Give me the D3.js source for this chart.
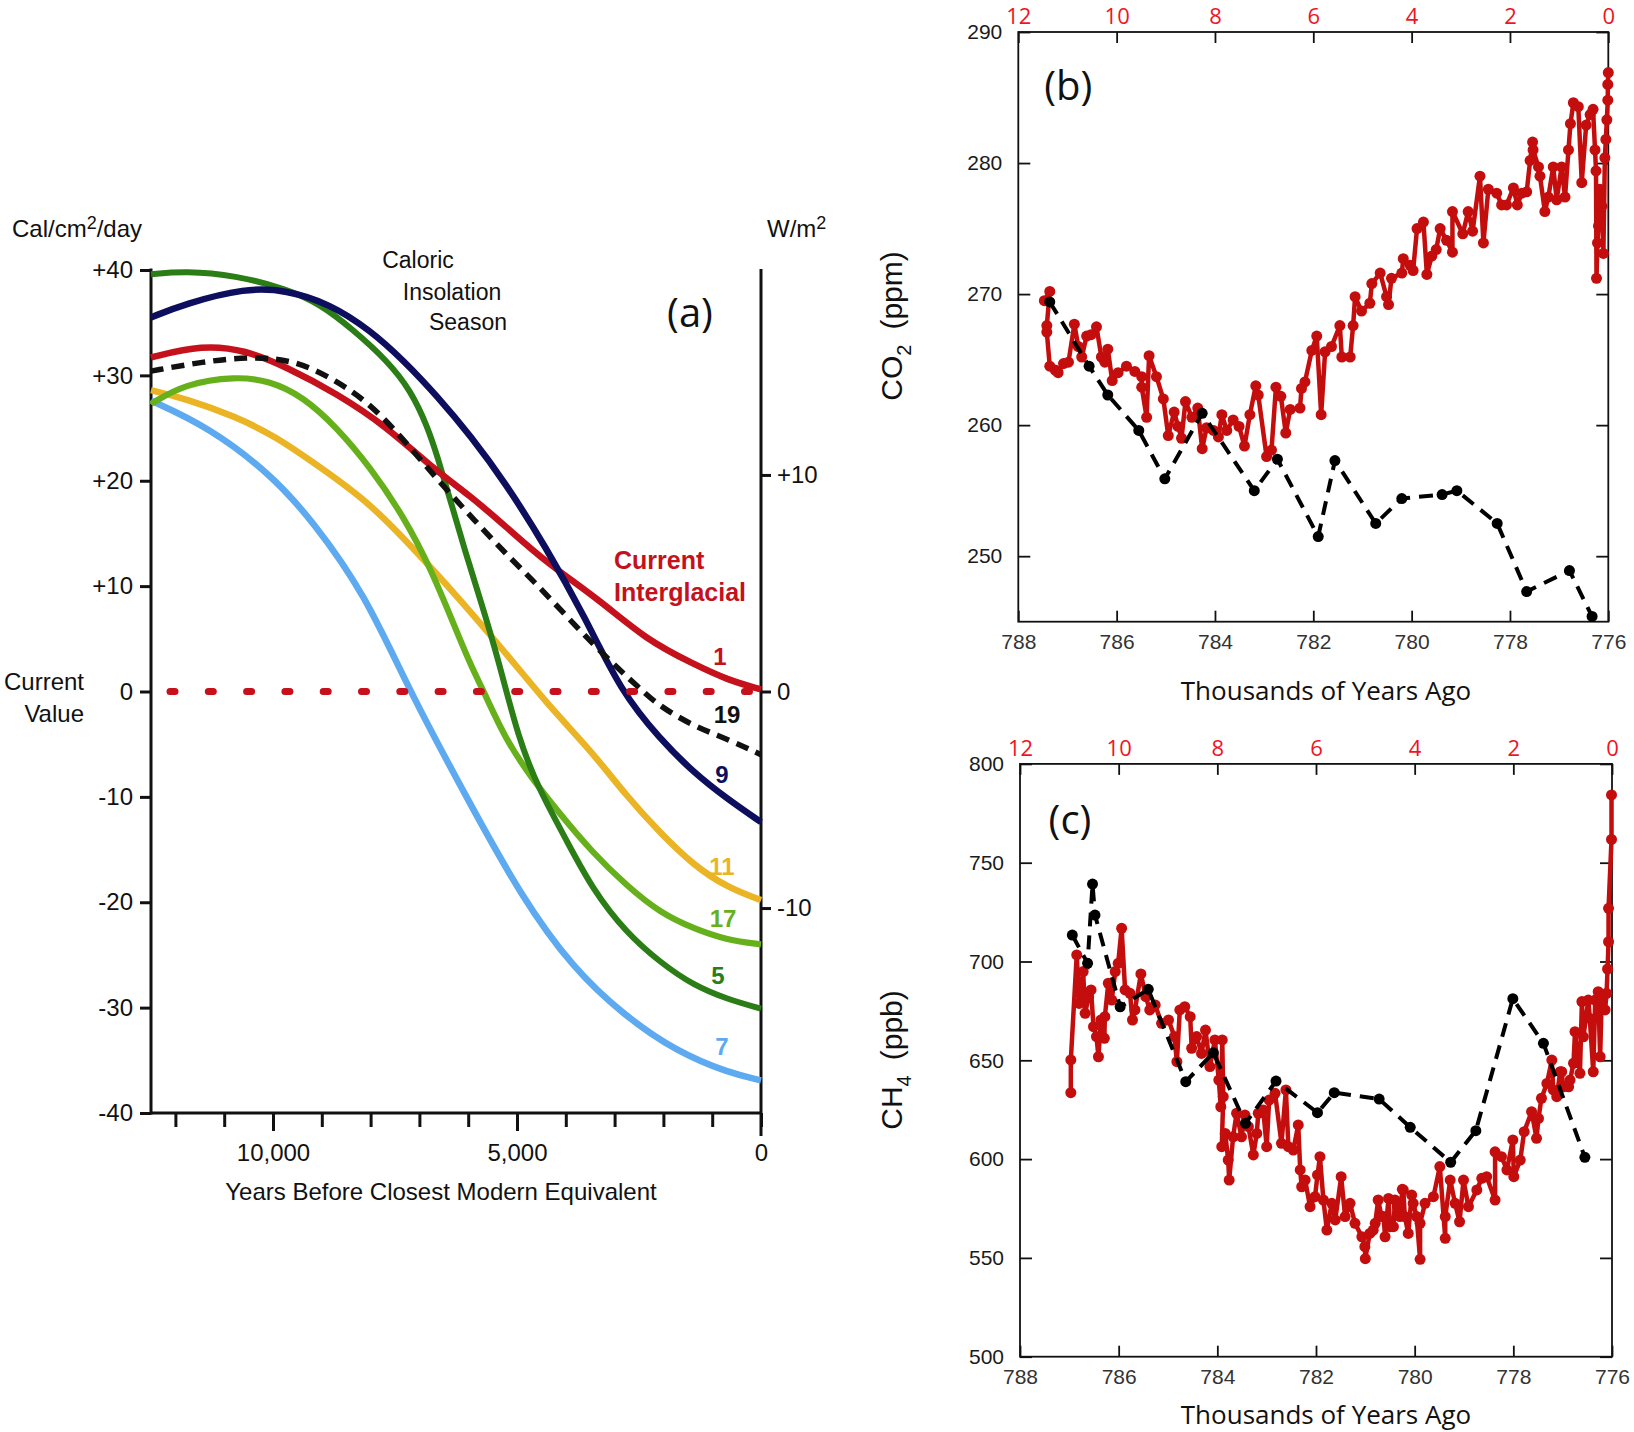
<!DOCTYPE html>
<meta charset="utf-8">
<head>
<script src="https://d3js.org/d3.v7.min.js"></script>
<style>
  body { margin: 0; background: #fff; }
  svg { display: block; }
  .sans { font-family: "Liberation Sans", Arial, sans-serif; }
  .cal { font-family: "Open Sans", sans-serif; }
</style>
</head>
<body>
<svg id="chart" width="1634" height="1432"></svg>

<script>
// ---------- panel (a): caloric insolation, years before closest modern equivalent (in kyr) ----------
var curve1  = [[12.5,31.7],[11.45,32.9],[10.56,32.4],[9.73,30.8],[8.70,28.3],[7.66,25.1],[6.76,21.3],[5.94,18.5],[5.24,15.7],[4.42,12.3],[3.31,8.7],[2.35,4.9],[1.38,2.6],[0.69,1.1],[0,0.2]];
var curve9  = [[12.5,35.5],[11.8,36.8],[10.56,38.3],[9.73,38.1],[8.84,36.8],[8.01,34.3],[7.32,31.4],[6.63,28.0],[5.94,24.2],[5.24,19.8],[4.42,13.8],[3.6,7.0],[2.87,0],[2.07,-4.5],[1.38,-7.7],[0.69,-10.2],[0,-12.4]];
var curve5  = [[12.5,39.6],[11.8,39.9],[10.77,39.5],[9.73,38.2],[9.04,36.8],[8.35,34.3],[7.66,31.4],[7.18,28.6],[6.83,25.1],[6.63,22.3],[6.35,17.9],[6.07,13.4],[5.73,8.4],[5.38,3.0],[4.97,-4.5],[4.55,-9.3],[4.00,-14.0],[3.45,-18.8],[2.76,-22.9],[2.07,-25.7],[1.38,-27.9],[0.69,-29.2],[0,-30.1]];
var curve17 = [[12.5,27.3],[11.8,29.2],[10.77,29.9],[10.08,29.5],[9.39,28.0],[8.70,25.1],[8.01,21.3],[7.32,16.6],[6.76,11.6],[6.28,6.2],[5.94,2.4],[5.68,0],[5.24,-4.5],[4.69,-8.3],[4.14,-11.5],[3.45,-15.3],[2.76,-18.4],[2.07,-21.0],[1.38,-22.5],[0.69,-23.6],[0,-24.0]];
var curve11 = [[12.5,28.6],[11.8,27.8],[10.77,26.1],[9.94,24.2],[9.04,21.3],[8.01,17.9],[6.97,12.8],[6.28,9.3],[5.59,5.6],[4.90,1.8],[4.28,-1.7],[3.45,-5.8],[2.76,-9.9],[2.07,-13.4],[1.38,-16.5],[0.69,-18.6],[0,-19.8]];
var curve7  = [[12.5,27.6],[11.32,25.1],[10.04,20.6],[9.19,16.2],[8.12,9.3],[7.2,0],[5.98,-10.5],[4.92,-19.4],[3.85,-26.3],[2.79,-30.8],[1.72,-34.2],[0.66,-36.2],[0,-36.9]];
var curve19 = [[12.5,30.4],[11.45,31.3],[10.42,31.8],[9.52,31.4],[8.70,29.5],[8.01,27.3],[7.32,23.9],[6.63,20.1],[5.94,16.6],[5.24,13.1],[4.55,10.0],[3.4,4.2],[2.42,0],[2.07,-1.4],[1.38,-3.3],[0.69,-4.5],[0,-6.0]];

var calTicks = [-40,-30,-20,-10,0,10,20,30,40];
var wTicks = [-10,0,10];
var yearTicks = [0,1,2,3,4,5,6,7,8,9,10,11,12];
var yearLabels = {10:"10,000", 5:"5,000", 0:"0"};

// ---------- panel (b): CO2 ----------
var co2Red = [[787.47,269.5],[787.36,270.2],[787.42,267.6],[787.42,267.1],[787.36,264.5],[787.25,264.2],[787.19,264.0],[787.08,264.7],[786.98,264.8],[786.86,267.7],[786.78,266.0],[786.71,265.2],[786.61,266.8],[786.52,266.9],[786.41,267.5],[786.31,265.2],[786.24,264.8],[786.18,265.8],[786.09,263.4],[785.97,264.0],[785.80,264.5],[785.63,264.1],[785.49,263.7],[785.49,262.9],[785.39,260.6],[785.34,265.3],[785.19,263.7],[785.05,262.0],[784.95,259.2],[784.83,261.0],[784.75,259.9],[784.68,259.0],[784.60,261.8],[784.47,260.6],[784.35,261.3],[784.26,258.2],[784.17,259.8],[784.03,259.6],[783.93,259.1],[783.86,260.8],[783.76,259.6],[783.63,260.4],[783.51,259.9],[783.40,258.4],[783.29,260.8],[783.17,263.0],[783.12,262.3],[782.95,257.6],[782.85,258.1],[782.76,262.9],[782.66,262.2],[782.56,259.4],[782.47,261.2],[782.27,261.3],[782.24,262.8],[782.17,263.3],[782.03,265.7],[781.93,266.8],[781.84,260.8],[781.76,265.6],[781.63,266.0],[781.46,267.6],[781.42,265.2],[781.25,265.2],[781.19,267.6],[781.15,269.8],[781.02,268.7],[780.85,269.3],[780.81,270.8],[780.64,271.6],[780.51,269.8],[780.47,269.2],[780.41,271.2],[780.20,271.6],[780.17,272.7],[780.03,272.2],[779.97,271.8],[779.89,275.0],[779.76,275.5],[779.69,271.5],[779.59,272.9],[779.50,273.4],[779.42,275.0],[779.29,274.1],[779.17,273.2],[779.17,276.3],[778.96,274.6],[778.85,276.3],[778.76,274.8],[778.61,279.0],[778.54,273.9],[778.44,278.0],[778.27,277.7],[778.17,276.8],[778.07,276.8],[777.93,278.1],[777.85,276.8],[777.76,277.7],[777.66,277.8],[777.59,280.2],[777.54,281.6],[777.53,281.0],[777.42,279.7],[777.39,279.0],[777.29,276.3],[777.22,277.4],[777.12,279.7],[777.05,277.2],[776.95,279.7],[776.88,277.4],[776.81,281.0],[776.77,283.0],[776.71,284.6],[776.61,284.3],[776.54,278.5],[776.45,282.9],[776.37,283.7],[776.31,284.1],[776.27,281.0],[776.25,279.4],[776.24,271.2],[776.22,273.9],[776.20,275.2],[776.17,278.0],[776.13,276.7],[776.10,273.1],[776.07,280.4],[776.05,281.8],[776.03,283.3],[776.01,284.8],[776.01,286.0],[776.0,286.9]];
var co2Black = [[787.36,269.4],[786.56,264.5],[786.18,262.3],[785.55,259.6],[785.02,255.9],[784.26,260.9],[783.20,255.0],[782.73,257.4],[781.90,251.5],[781.56,257.3],[780.73,252.5],[780.20,254.4],[779.38,254.7],[779.08,255.0],[778.26,252.5],[777.66,247.3],[776.79,248.9],[776.33,245.4]];
var co2Ticks = [250,260,270,280,290];

// ---------- panel (c): CH4 ----------
var ch4Red = [[786.97,633.6],[786.97,650.2],[786.85,703.3],[786.80,678.8],[786.72,694.9],[786.68,673.8],[786.61,682.2],[786.56,685.6],[786.51,667.0],[786.45,662.0],[786.41,651.8],[786.36,670.4],[786.29,661.1],[786.28,672.1],[786.21,689.0],[786.14,680.5],[786.07,694.9],[786.01,699.1],[785.94,716.8],[785.87,685.6],[785.77,683.9],[785.72,670.4],[785.67,675.5],[785.55,693.7],[785.45,682.2],[785.37,675.5],[785.26,678.0],[785.13,668.7],[784.99,670.4],[784.87,662.0],[784.82,649.3],[784.76,675.5],[784.66,677.1],[784.55,672.1],[784.52,656.1],[784.42,662.0],[784.32,653.5],[784.24,665.3],[784.15,646.8],[784.05,660.3],[783.97,640.0],[783.93,626.5],[783.90,660.3],[783.88,631.6],[783.91,606.3],[783.84,613.0],[783.78,599.5],[783.76,589.4],[783.68,611.3],[783.61,623.2],[783.51,611.3],[783.44,622.3],[783.37,616.4],[783.27,602.1],[783.20,613.0],[783.17,623.2],[783.07,624.8],[783.00,606.3],[782.95,629.9],[782.83,633.3],[782.70,608.0],[782.61,635.0],[782.56,606.3],[782.46,604.6],[782.36,617.3],[782.32,594.5],[782.29,586.0],[782.22,589.4],[782.12,575.9],[782.02,581.0],[781.97,592.0],[781.92,601.2],[781.85,579.3],[781.78,564.1],[781.68,577.6],[781.61,569.2],[781.49,591.1],[781.41,570.9],[781.31,577.6],[781.21,567.5],[781.07,560.7],[781.01,555.7],[781.0,549.6],[780.91,562.4],[780.84,564.1],[780.80,567.5],[780.74,579.3],[780.67,570.9],[780.63,570.9],[780.60,560.7],[780.53,580.1],[780.50,565.8],[780.43,565.8],[780.40,579.3],[780.35,575.9],[780.30,570.9],[780.25,584.7],[780.23,584.4],[780.20,570.9],[780.13,562.4],[780.06,581.8],[780.03,577.6],[779.96,570.9],[779.89,549.3],[779.89,567.5],[779.79,577.6],[779.62,581.0],[779.49,596.2],[779.38,559.9],[779.38,570.9],[779.28,589.4],[779.18,577.6],[779.09,568.3],[779.01,589.4],[778.91,575.9],[778.74,584.4],[778.64,590.3],[778.54,591.1],[778.37,579.3],[778.37,603.7],[778.24,601.2],[778.13,594.5],[778.01,609.7],[777.99,591.1],[777.86,599.5],[777.78,613.9],[777.63,624.0],[777.53,610.5],[777.49,620.6],[777.43,630.8],[777.32,638.3],[777.22,650.1],[777.19,635.0],[777.12,631.6],[777.05,644.2],[777.02,644.2],[776.99,636.6],[776.88,636.6],[776.85,640.0],[776.78,648.5],[776.75,664.5],[776.65,643.4],[776.61,679.7],[776.58,661.9],[776.48,680.5],[776.45,671.2],[776.38,644.2],[776.34,680.5],[776.28,684.7],[776.24,651.8],[776.21,680.5],[776.14,675.5],[776.11,683.9],[776.09,696.2],[776.07,710.0],[776.07,726.9],[776.01,761.8],[776.01,784.3]];
var ch4Black = [[786.94,713.4],[786.63,699.1],[786.53,739.2],[786.48,723.5],[785.97,677.1],[785.40,685.9],[784.64,639.2],[784.08,653.8],[783.43,618.1],[782.81,639.5],[781.97,623.5],[781.63,633.6],[780.72,630.4],[780.09,616.1],[779.27,598.4],[778.76,614.4],[778.01,681.2],[777.39,658.6],[776.55,600.9]];
var ch4Ticks = [500,550,600,650,700,750,800];

var ageTicks = [788,786,784,782,780,778,776];
var kyrTicks = [12,10,8,6,4,2,0];

var svg = d3.select("#chart");
var RED = "#c40d0d";

// =================== panel (a) ===================
var xA = d3.scaleLinear().domain([12.5, 0]).range([151, 761]);
var yA = d3.scaleLinear().domain([-40, 40]).range([1113, 270]);
var wA = d3.scaleLinear().domain([-40/2.055, 40/2.055]).range([1113, 270]);

var gA = svg.append("g").attr("class", "sans");

function styleAxis(g, fs) {
  g.select(".domain").remove();
  g.selectAll(".tick line").attr("stroke", "#111").attr("stroke-width", 3);
  g.selectAll(".tick text").attr("font-size", fs).attr("fill", "#111")
    .attr("font-family", "Liberation Sans, Arial, sans-serif");
}

var axL = gA.append("g").attr("transform", "translate(151,0)")
  .call(d3.axisLeft(yA).tickValues(calTicks).tickSize(11).tickPadding(7)
    .tickFormat(function(d){ return (d > 0 ? "+" : "") + d; }));
styleAxis(axL, 24);

var axB = gA.append("g").attr("transform", "translate(0,1113)")
  .call(d3.axisBottom(xA).tickValues(yearTicks).tickSize(14).tickPadding(17)
    .tickFormat(function(d){ return yearLabels[d] || ""; }));
styleAxis(axB, 24);
axB.selectAll(".tick line").filter(function(d){ return d === 10 || d === 5; }).attr("y2", 18);

var axR = gA.append("g").attr("transform", "translate(761,0)")
  .call(d3.axisRight(wA).tickValues(wTicks).tickSize(10).tickPadding(6)
    .tickFormat(function(d){ return (d > 0 ? "+" : "") + d; }));
styleAxis(axR, 24);

// axis lines
gA.append("line").attr("x1", 151).attr("x2", 151).attr("y1", yA(40) - 1.5).attr("y2", yA(-40) + 1.5)
  .attr("stroke", "#111").attr("stroke-width", 3);
gA.append("line").attr("x1", 151).attr("x2", 761).attr("y1", yA(-40)).attr("y2", yA(-40))
  .attr("stroke", "#111").attr("stroke-width", 3);
gA.append("line").attr("x1", 761).attr("x2", 761).attr("y1", yA(40) - 1).attr("y2", 1136)
  .attr("stroke", "#111").attr("stroke-width", 3);

var lineA = d3.line().x(function(d){ return xA(d[0]); }).y(function(d){ return yA(d[1]); }).curve(d3.curveBasis);

var curvesA = [
  {data: curve7,  color: "#5eaaf0", w: 6.5},
  {data: curve11, color: "#ebb424", w: 6.5},
  {data: curve17, color: "#66b11b", w: 6.2},
  {data: curve5,  color: "#2b7d16", w: 6},
  {data: curve1,  color: "#c5111b", w: 6.5},
  {data: curve9,  color: "#0d0f5e", w: 6.5},
  {data: curve19, color: "#111", w: 5.5, dash: "13,8"}
];
gA.selectAll("path.crv").data(curvesA).join("path").attr("class", "crv")
  .attr("d", function(d){ return lineA(d.data); })
  .attr("fill", "none")
  .attr("stroke", function(d){ return d.color; })
  .attr("stroke-width", function(d){ return d.w; })
  .attr("stroke-dasharray", function(d){ return d.dash || null; });

// dotted current-value line
gA.append("line").attr("x1", 170).attr("x2", 761).attr("y1", yA(0)).attr("y2", yA(0))
  .attr("stroke", "#c8101c").attr("stroke-width", 7).attr("stroke-linecap", "round")
  .attr("stroke-dasharray", "5,33.3");

// curve labels
var curveLabels = [
  {t: "1",  x: 720, y: 665, c: "#c5111b"},
  {t: "19", x: 727, y: 723, c: "#111"},
  {t: "9",  x: 722, y: 783, c: "#0d0f5e"},
  {t: "11", x: 722, y: 875, c: "#ebb424"},
  {t: "17", x: 723, y: 927, c: "#66b11b"},
  {t: "5",  x: 718, y: 984, c: "#2b7d16"},
  {t: "7",  x: 722, y: 1055, c: "#5eaaf0"}
];
gA.selectAll("text.cl").data(curveLabels).join("text").attr("class", "cl")
  .attr("x", function(d){ return d.x; }).attr("y", function(d){ return d.y; })
  .attr("text-anchor", "middle").attr("font-size", 24).attr("font-weight", "bold")
  .attr("fill", function(d){ return d.c; }).text(function(d){ return d.t; });

var tCal = gA.append("text").attr("x", 12).attr("y", 237).attr("font-size", 24).attr("fill", "#111");
tCal.append("tspan").text("Cal/cm");
tCal.append("tspan").attr("font-size", 18).attr("dy", -8).text("2");
tCal.append("tspan").attr("dy", 8).text("/day");

var tW = gA.append("text").attr("x", 767).attr("y", 237).attr("font-size", 24).attr("fill", "#111");
tW.append("tspan").text("W/m");
tW.append("tspan").attr("font-size", 18).attr("dy", -8).text("2");

gA.append("text").attr("x", 418).attr("y", 268).attr("text-anchor", "middle").attr("font-size", 23).attr("fill", "#111").text("Caloric");
gA.append("text").attr("x", 452).attr("y", 300).attr("text-anchor", "middle").attr("font-size", 23).attr("fill", "#111").text("Insolation");
gA.append("text").attr("x", 468).attr("y", 330).attr("text-anchor", "middle").attr("font-size", 23).attr("fill", "#111").text("Season");

gA.append("text").attr("class", "cal").attr("x", 690).attr("y", 327).attr("text-anchor", "middle")
  .attr("font-size", 40).attr("fill", "#111").text("(a)");

gA.append("text").attr("x", 614).attr("y", 569).attr("font-size", 25).attr("font-weight", "bold").attr("fill", "#c5111b").text("Current");
gA.append("text").attr("x", 614).attr("y", 601).attr("font-size", 25).attr("font-weight", "bold").attr("fill", "#c5111b").text("Interglacial");

gA.append("text").attr("x", 84).attr("y", 690).attr("text-anchor", "end").attr("font-size", 24).attr("fill", "#111").text("Current");
gA.append("text").attr("x", 84).attr("y", 722).attr("text-anchor", "end").attr("font-size", 24).attr("fill", "#111").text("Value");

gA.append("text").attr("x", 441).attr("y", 1200).attr("text-anchor", "middle").attr("font-size", 24).attr("fill", "#111")
  .text("Years Before Closest Modern Equivalent");

// =================== panels (b) and (c) ===================
function drawPanel(opt) {
  var x = d3.scaleLinear().domain([788, 776]).range([opt.x0, opt.x1]);
  var xt = d3.scaleLinear().domain([12, 0]).range([opt.x0, opt.x1]);
  var y = d3.scaleLinear().domain(opt.yDomain).range([opt.y1, opt.y0]);
  var g = svg.append("g");

  function thin(a) {
    a.select(".domain").remove();
    a.selectAll(".tick line").attr("stroke", "#111").attr("stroke-width", 1.8);
  }

  var l = g.append("g").attr("transform", "translate(" + opt.x0 + ",0)")
    .call(d3.axisLeft(y).tickValues(opt.yTicks).tickSize(-12).tickPadding(16).tickFormat(d3.format("d")));
  thin(l);
  l.selectAll(".tick text").attr("font-size", 21).attr("fill", "#1a1a1a").attr("font-family", "Liberation Sans, Arial, sans-serif");

  var r = g.append("g").attr("transform", "translate(" + opt.x1 + ",0)")
    .call(d3.axisRight(y).tickValues(opt.yTicks).tickSize(-12).tickFormat(""));
  thin(r);

  var b = g.append("g").attr("transform", "translate(0," + opt.y1 + ")")
    .call(d3.axisBottom(x).tickValues(ageTicks).tickSize(-11).tickPadding(12).tickFormat(d3.format("d")));
  thin(b);
  b.selectAll(".tick text").attr("font-size", 21).attr("fill", "#333").attr("font-family", "Liberation Sans, Arial, sans-serif");

  var t = g.append("g").attr("transform", "translate(0," + opt.y0 + ")")
    .call(d3.axisTop(xt).tickValues(kyrTicks).tickSize(-11).tickPadding(8).tickFormat(d3.format("d")));
  thin(t);
  t.selectAll(".tick text").attr("font-size", 22).attr("fill", "#f0141e").attr("font-family", "Open Sans, sans-serif");

  g.append("rect").attr("x", opt.x0).attr("y", opt.y0).attr("width", opt.x1 - opt.x0).attr("height", opt.y1 - opt.y0)
    .attr("fill", "none").attr("stroke", "#111").attr("stroke-width", 1.8);

  var line = d3.line().x(function(d){ return x(d[0]); }).y(function(d){ return y(d[1]); });

  g.append("path").attr("d", line(opt.red)).attr("fill", "none").attr("stroke", RED)
    .attr("stroke-width", 4.5).attr("stroke-linejoin", "round");
  g.selectAll("circle.r").data(opt.red).join("circle").attr("class", "r")
    .attr("cx", function(d){ return x(d[0]); }).attr("cy", function(d){ return y(d[1]); })
    .attr("r", 5.5).attr("fill", RED);

  g.append("path").attr("d", line(opt.black)).attr("fill", "none").attr("stroke", "#000")
    .attr("stroke-width", 4).attr("stroke-dasharray", "14,9");
  g.selectAll("circle.k").data(opt.black).join("circle").attr("class", "k")
    .attr("cx", function(d){ return x(d[0]); }).attr("cy", function(d){ return y(d[1]); })
    .attr("r", 5.5).attr("fill", "#000");

  g.append("text").attr("class", "cal").attr("x", opt.x0 + 50).attr("y", opt.y0 + opt.labelDy)
    .attr("text-anchor", "middle").attr("font-size", 40).attr("fill", "#111").text(opt.label);

  g.append("text").attr("class", "cal").attr("x", 1326).attr("y", opt.titleY)
    .attr("text-anchor", "middle").attr("font-size", 26).attr("fill", "#111").text("Thousands of Years Ago");

  var yl = g.append("text").attr("class", "sans")
    .attr("transform", "translate(902," + opt.ylabelY + ") rotate(-90)")
    .attr("text-anchor", "middle").attr("font-size", 30).attr("fill", "#111");
  yl.append("tspan").text(opt.chem);
  yl.append("tspan").attr("font-size", 20).attr("dy", 9).text(opt.sub);
  yl.append("tspan").attr("dy", -9).text("\u2002(" + opt.unit + ")");
}

drawPanel({x0: 1018.3, x1: 1608.3, y0: 32, y1: 621.7, yDomain: [245, 290], yTicks: co2Ticks,
  red: co2Red, black: co2Black, label: "(b)", labelDy: 68, titleY: 700, ylabelY: 326,
  chem: "CO", sub: "2", unit: "ppm"});

drawPanel({x0: 1020, x1: 1612, y0: 763.9, y1: 1356.7, yDomain: [500, 800], yTicks: ch4Ticks,
  red: ch4Red, black: ch4Black, label: "(c)", labelDy: 70, titleY: 1424, ylabelY: 1060,
  chem: "CH", sub: "4", unit: "ppb"});
</script>
</body>
